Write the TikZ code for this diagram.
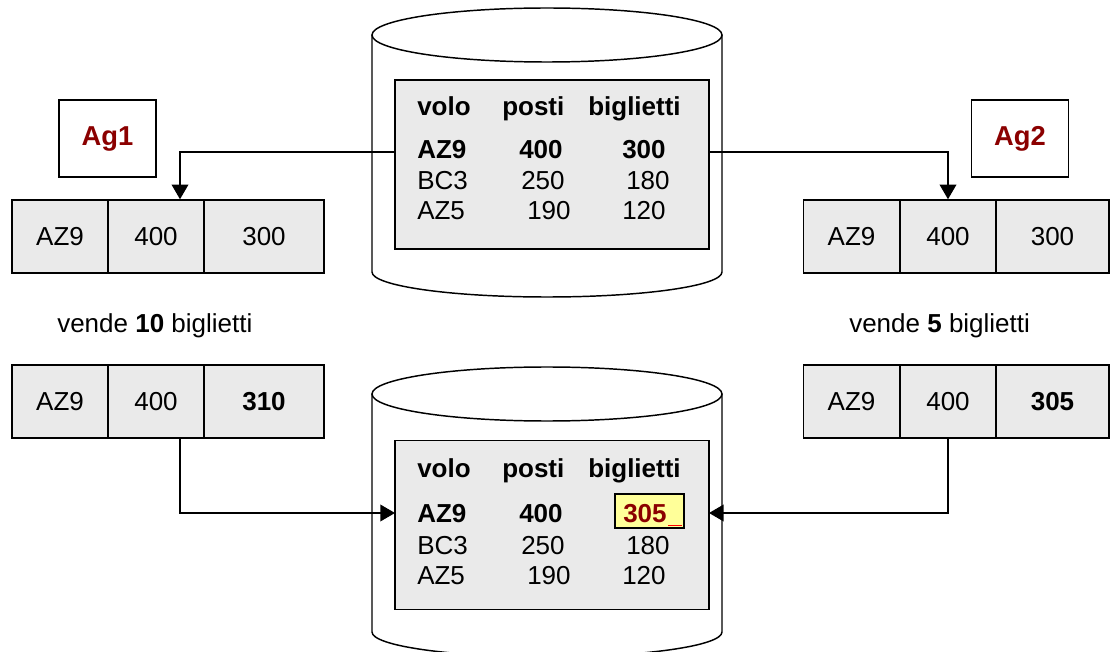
\documentclass[tikz,border=0pt]{standalone}
\usepackage{fontspec}
\setmainfont{Liberation Sans}
\usetikzlibrary{arrows.meta}
\definecolor{cellgray}{HTML}{EAEAEA}
\definecolor{agred}{HTML}{8B0000}
\definecolor{hilite}{HTML}{FFFF99}

\begin{document}
\begin{tikzpicture}[x=0.75pt,y=-0.75pt,
  every node/.style={font=\fontsize{19.5}{23}\selectfont},
  line/.style={line width=1.1pt},
  cell/.style={draw,line width=1.1pt,fill=cellgray,minimum height=54.75pt,inner sep=0pt,anchor=center},
  cellA/.style={cell,minimum width=72pt},
  cellB/.style={cell,minimum width=90pt},
  agent/.style={draw,line width=1.1pt,fill=white,minimum width=72.75pt,minimum height=57.75pt,
    inner sep=0pt,text=agred,font=\fontsize{20.5}{24}\selectfont\bfseries},
  tab/.style={draw,line width=1.1pt,fill=cellgray,minimum width=235.5pt,minimum height=126.75pt,inner sep=0pt},
  txt/.style={anchor=base west,inner sep=0pt},
  btxt/.style={txt,font=\fontsize{19.5}{23}\selectfont\bfseries},
  arr/.style={line,-{Triangle[length=11pt,width=12.5pt]}}]

\useasboundingbox (0,0) rectangle (1111,652);

% ---------- upper database ----------
\draw[line,fill=white] (372,35) -- (372,272) arc[start angle=180,end angle=0,x radius=175,y radius=25] -- (722,35);
\draw[line,fill=white] (547,35) ellipse [x radius=175,y radius=27];
\node[tab] (tab1) at (552,164.5) {};
\node[btxt] at (417,116) {volo};
\node[btxt] at (502,116) {posti};
\node[btxt] at (588,116) {biglietti};
\node[btxt] at (417,159) {AZ9};
\node[btxt] at (519,159) {400};
\node[btxt] at (622,159) {300};
\node[txt] at (417,190) {BC3};
\node[txt] at (521,190) {250};
\node[txt] at (626,190) {180};
\node[txt] at (417,220) {AZ5};
\node[txt] at (527,220) {190};
\node[txt] at (622,220) {120};
\coordinate (t1L) at (395,152);
\coordinate (t1R) at (709,152);

% ---------- lower database ----------
\draw[line,fill=white] (372,394) -- (372,632) arc[start angle=180,end angle=0,x radius=175,y radius=25] -- (722,394);
\draw[line,fill=white] (547,394) ellipse [x radius=175,y radius=27];
\node[tab] (tab2) at (552,525) {};
\node[btxt] at (417,477) {volo};
\node[btxt] at (502,477) {posti};
\node[btxt] at (588,477) {biglietti};
\node[btxt] at (417,522) {AZ9};
\node[btxt] at (519,522) {400};
\node[draw,line width=1.1pt,fill=hilite,minimum width=51.75pt,minimum height=25.5pt,inner sep=0pt] (upd) at (649.5,511) {};
\node[btxt,text=agred] at (623,522) {305};
\draw[red,line width=1.2pt] (668,525.5) -- (682,525.5);
\node[txt] at (417,554) {BC3};
\node[txt] at (521,554) {250};
\node[txt] at (626,554) {180};
\node[txt] at (417,584) {AZ5};
\node[txt] at (527,584) {190};
\node[txt] at (622,584) {120};
\coordinate (t2L) at (395,513);
\coordinate (t2R) at (709,513);

% ---------- agents ----------
\node[agent] (ag1) at (107.5,138.5) {Ag1};
\node[agent] (ag2) at (1020,138.5) {Ag2};

% ---------- local copies, before ----------
\node[cellA] (a11) at (60,236.5) {AZ9};
\node[cellA] (a12) at (156,236.5) {400};
\node[cellB] (a13) at (264,236.5) {300};
\node[cellA] (b11) at (851.5,236.5) {AZ9};
\node[cellA] (b12) at (948,236.5) {400};
\node[cellB,minimum width=84.75pt] (b13) at (1052.5,236.5) {300};

\node[txt] at (57,333) {vende \textbf{10} biglietti};
\node[txt] at (849,333) {vende \textbf{5} biglietti};

% ---------- local copies, after ----------
\node[cellA] (a21) at (60,401.5) {AZ9};
\node[cellA] (a22) at (156,401.5) {400};
\node[cellB,font=\fontsize{19.5}{23}\selectfont\bfseries] (a23) at (264,401.5) {310};
\node[cellA] (b21) at (851.5,401.5) {AZ9};
\node[cellA] (b22) at (948,401.5) {400};
\node[cellB,minimum width=84.75pt,font=\fontsize{19.5}{23}\selectfont\bfseries] (b23) at (1052.5,401.5) {305};

% attachment points on the left copies (right of the cell centre)
\coordinate (a12in) at ([xshift=18pt]a12.north);
\coordinate (a22out) at ([xshift=18pt]a22.south);

% ---------- connectors ----------
\draw[arr] (t1L) -| (a12in);
\draw[arr] (t1R) -| (b12.north);
\draw[arr] (a22out) |- (t2L);
\draw[arr] (b22.south) |- (t2R);
\end{tikzpicture}
\end{document}
